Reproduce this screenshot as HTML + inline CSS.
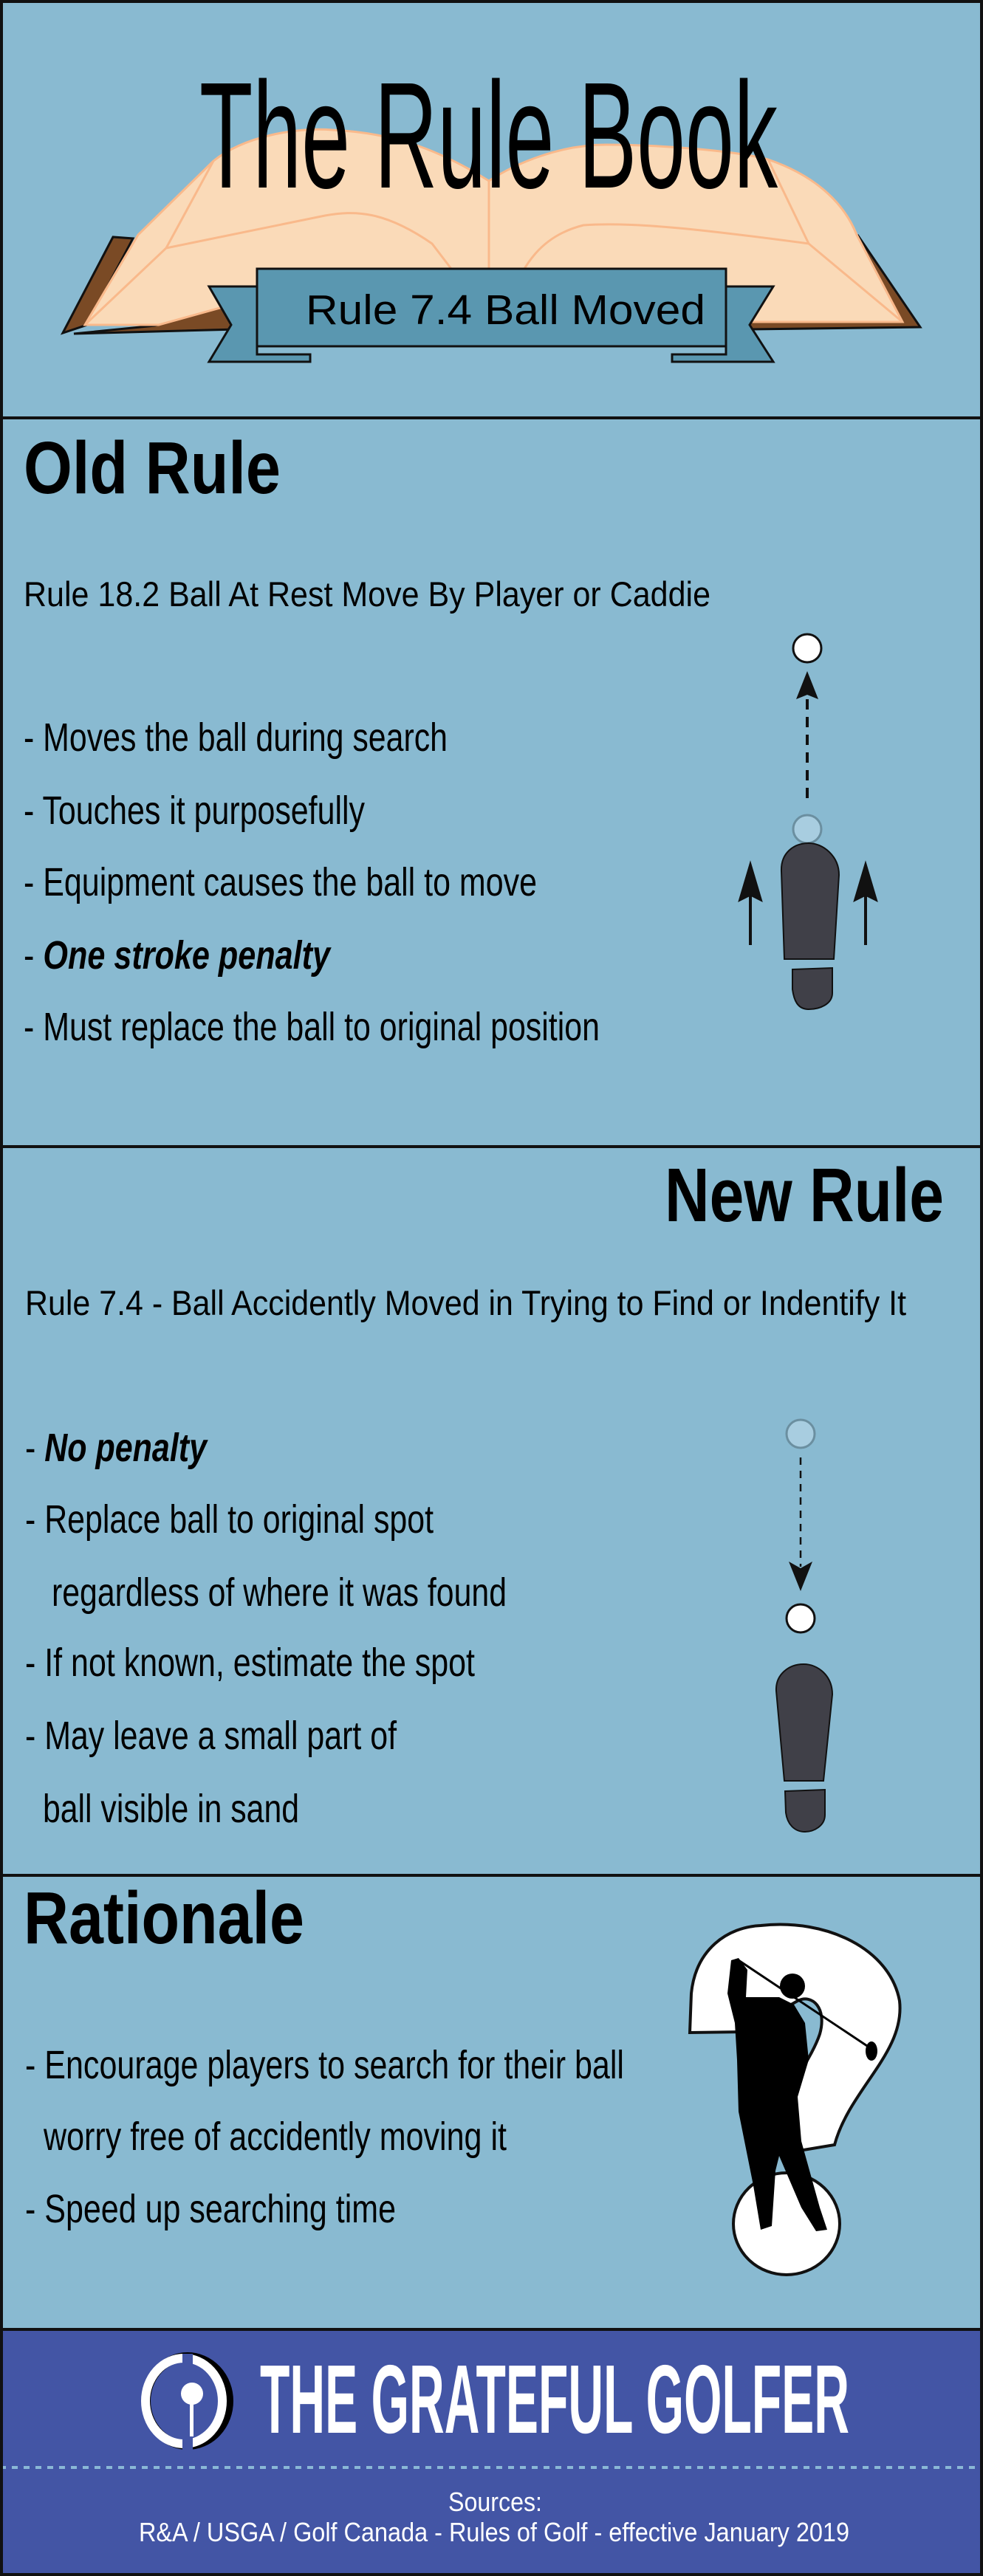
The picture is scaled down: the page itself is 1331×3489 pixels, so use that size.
<!DOCTYPE html>
<html><head><meta charset="utf-8"><style>html,body{margin:0;padding:0;background:#89bad1}svg{display:block}</style></head><body>
<svg width="1331" height="3489" viewBox="0 0 1331 3489" xmlns="http://www.w3.org/2000/svg" font-family="'Liberation Sans', sans-serif">
<rect x="0" y="0" width="1331" height="3489" fill="#89bad1"/>
<!-- footer -->
<rect x="0" y="3155" width="1331" height="334" fill="#4355a5"/>
<line x1="0" y1="3342" x2="1331" y2="3342" stroke="#8ab8d6" stroke-width="4" stroke-dasharray="8 8"/>
<!-- borders -->
<rect x="2" y="2" width="1327" height="3485" fill="none" stroke="#111" stroke-width="4"/>
<line x1="0" y1="566" x2="1331" y2="566" stroke="#111" stroke-width="4"/>
<line x1="0" y1="1553" x2="1331" y2="1553" stroke="#111" stroke-width="4"/>
<line x1="0" y1="2540" x2="1331" y2="2540" stroke="#111" stroke-width="4"/>
<line x1="0" y1="3155" x2="1331" y2="3155" stroke="#111" stroke-width="4"/>

<!-- BOOK -->
<polygon points="85,451 153,321 180,323 118,440" fill="#7a4a25" stroke="#111" stroke-width="3"/>
<polygon points="210,441 305,412 320,446 100,452" fill="#7a4a25" stroke="#111" stroke-width="3"/>
<polygon points="1161,318 1246,443 1015,446 1015,434 1220,434" fill="#7a4a25" stroke="#111" stroke-width="3"/>
<path d="M115,440 L187,318 L289,218 C330,185 400,172 450,176 C530,180 590,200 662,245 C700,220 760,196 820,196 C900,196 1000,205 1040,216 C1110,240 1145,280 1160,318 L1222,436 L1010,436 L700,440 L305,415 L215,440 Z" fill="#fadab8" stroke="#f9b98b" stroke-width="3"/>
<g fill="none" stroke="#f9b98b" stroke-width="3">
<path d="M289,218 L225,336 L115,440"/>
<path d="M225,336 L440,292 C480,285 520,285 585,330 L640,402"/>
<path d="M662,245 L662,402"/>
<path d="M690,402 C710,360 730,320 790,305 C860,300 960,312 1095,330 L1222,436"/>
<path d="M1095,330 L1040,216"/>
</g>
<!-- banner -->
<polygon points="283,388 348,388 348,480 420,480 420,490 283,490 313,440" fill="#5a97b0" stroke="#111" stroke-width="3"/>
<polygon points="1047,388 983,388 983,480 910,480 910,490 1047,490 1015,440" fill="#5a97b0" stroke="#111" stroke-width="3"/>
<rect x="348" y="364" width="635" height="105" fill="#5a97b0" stroke="#111" stroke-width="3"/>
<text x="414" y="439" font-size="57" textLength="541" lengthAdjust="spacingAndGlyphs" fill="#000">Rule 7.4 Ball Moved</text>
<text x="270" y="254" font-size="205" textLength="783" lengthAdjust="spacingAndGlyphs" fill="#000">The Rule Book</text>

<!-- OLD RULE -->
<text x="32" y="668" font-size="100" font-weight="bold" textLength="348" lengthAdjust="spacingAndGlyphs">Old Rule</text>
<text x="32" y="821" font-size="47" textLength="930" lengthAdjust="spacingAndGlyphs">Rule 18.2 Ball At Rest Move By Player or Caddie</text>
<text x="32" y="1017" font-size="54" textLength="574" lengthAdjust="spacingAndGlyphs">- Moves the ball during search</text>
<text x="32" y="1116" font-size="54" textLength="462" lengthAdjust="spacingAndGlyphs">- Touches it purposefully</text>
<text x="32" y="1213" font-size="54" textLength="695" lengthAdjust="spacingAndGlyphs">- Equipment causes the ball to move</text>
<text x="32" y="1312" font-size="54" textLength="415" lengthAdjust="spacingAndGlyphs">- <tspan font-weight="bold" font-style="italic">One stroke penalty</tspan></text>
<text x="32" y="1409" font-size="54" textLength="780" lengthAdjust="spacingAndGlyphs">- Must replace the ball to original position</text>

<circle cx="1093" cy="878" r="19" fill="#fff" stroke="#111" stroke-width="3"/>
<polygon points="1093,909 1078,947 1093,941 1108,947" fill="#111"/>
<line x1="1093" y1="947" x2="1093" y2="1091" stroke="#111" stroke-width="4" stroke-dasharray="14 10"/>
<circle cx="1093" cy="1123" r="19" fill="#a8cde0" stroke="#6b8fa0" stroke-width="3"/>
<path d="M1062,1299 L1058,1180 C1057,1155 1075,1142 1095,1142 C1115,1142 1136,1160 1136,1185 L1129,1299 Z" fill="#404048" stroke="#111" stroke-width="2"/>
<path d="M1073,1313 L1127,1311 L1127,1345 C1127,1360 1110,1367 1095,1367 C1080,1367 1075,1355 1073,1340 Z" fill="#404048" stroke="#111" stroke-width="2"/>
<g fill="#111" stroke="#111">
<line x1="1016" y1="1280" x2="1016" y2="1212" stroke-width="4"/>
<polygon points="1016,1167 1000,1221 1016,1213 1032,1221" stroke-width="1"/>
<line x1="1172" y1="1280" x2="1172" y2="1212" stroke-width="4"/>
<polygon points="1172,1167 1156,1221 1172,1213 1188,1221" stroke-width="1"/>
</g>

<!-- NEW RULE -->
<text x="900" y="1654" font-size="103" font-weight="bold" textLength="378" lengthAdjust="spacingAndGlyphs">New Rule</text>
<text x="34" y="1781" font-size="47" textLength="1193" lengthAdjust="spacingAndGlyphs">Rule 7.4 - Ball Accidently Moved in Trying to Find or Indentify It</text>
<text x="34" y="1979" font-size="54" textLength="246" lengthAdjust="spacingAndGlyphs">- <tspan font-weight="bold" font-style="italic">No penalty</tspan></text>
<text x="34" y="2076" font-size="54" textLength="553" lengthAdjust="spacingAndGlyphs">- Replace ball to original spot</text>
<text x="70" y="2175" font-size="54" textLength="616" lengthAdjust="spacingAndGlyphs">regardless of where it was found</text>
<text x="34" y="2270" font-size="54" textLength="609" lengthAdjust="spacingAndGlyphs">- If not known, estimate the spot</text>
<text x="34" y="2369" font-size="54" textLength="503" lengthAdjust="spacingAndGlyphs">- May leave a small part of</text>
<text x="58" y="2468" font-size="54" textLength="347" lengthAdjust="spacingAndGlyphs">ball visible in sand</text>

<circle cx="1084" cy="1942" r="19" fill="#a8cde0" stroke="#6b8fa0" stroke-width="3"/>
<line x1="1084" y1="1974" x2="1084" y2="2122" stroke="#111" stroke-width="2.5" stroke-dasharray="10 8"/>
<polygon points="1084,2155 1068,2115 1084,2124 1100,2115" fill="#111"/>
<circle cx="1084" cy="2192" r="19" fill="#fff" stroke="#111" stroke-width="3"/>
<path d="M1062,2412 L1051,2290 C1050,2268 1068,2254 1088,2254 C1108,2254 1127,2270 1127,2295 L1115,2412 Z" fill="#404048" stroke="#111" stroke-width="2"/>
<path d="M1063,2426 L1117,2424 L1117,2458 C1117,2473 1102,2481 1090,2481 C1075,2481 1066,2470 1064,2455 Z" fill="#404048" stroke="#111" stroke-width="2"/>

<!-- RATIONALE -->
<text x="32" y="2632" font-size="100" font-weight="bold" textLength="380" lengthAdjust="spacingAndGlyphs">Rationale</text>
<text x="34" y="2815" font-size="54" textLength="811" lengthAdjust="spacingAndGlyphs">- Encourage players to search for their ball</text>
<text x="59" y="2912" font-size="54" textLength="627" lengthAdjust="spacingAndGlyphs">worry free of accidently moving it</text>
<text x="34" y="3010" font-size="54" textLength="502" lengthAdjust="spacingAndGlyphs">- Speed up searching time</text>

<path d="M934,2753 L936,2700 C942,2640 985,2610 1030,2608 C1120,2598 1205,2640 1218,2710 C1226,2780 1150,2830 1130,2905 L1040,2920 C1045,2850 1095,2800 1110,2755 C1120,2720 1100,2700 1080,2710 L1006,2752 Z" fill="#fff" stroke="#111" stroke-width="4"/>
<ellipse cx="1065" cy="3012" rx="72" ry="69" fill="#fff" stroke="#111" stroke-width="4"/>
<!-- golfer -->
<g fill="#000">
<circle cx="1073" cy="2690" r="17"/>
<path d="M990,2655 L1000,2652 L1012,2668 L1010,2705 L1055,2705 L1075,2715 L1090,2740 L1095,2790 L1080,2840 L1085,2900 L1110,2990 L1120,3020 L1105,3022 L1085,2990 L1055,2920 L1050,2940 L1045,3015 L1030,3020 L1020,2960 L1000,2860 L998,2790 L995,2740 L985,2700 Z"/>
</g>
<line x1="1000" y1="2655" x2="1180" y2="2775" stroke="#000" stroke-width="3"/>
<ellipse cx="1180" cy="2778" rx="8" ry="13" fill="#000"/>

<!-- FOOTER -->
<ellipse cx="254" cy="3252" rx="56" ry="60" fill="none" stroke="#000" stroke-width="12"/>
<ellipse cx="249" cy="3252" rx="52" ry="58" fill="none" stroke="#fff" stroke-width="12"/>
<rect x="247" y="3188" width="14" height="20" fill="#4355a5"/>
<rect x="247" y="3298" width="14" height="20" fill="#4355a5"/>
<circle cx="260" cy="3242" r="15" fill="#fff"/>
<rect x="257" y="3255" width="5" height="45" fill="#fff"/>
<text x="352" y="3295" font-size="132" font-weight="bold" fill="#fff" textLength="798" lengthAdjust="spacingAndGlyphs">THE GRATEFUL GOLFER</text>
<text x="607" y="3401" font-size="36" fill="#fff" textLength="127" lengthAdjust="spacingAndGlyphs">Sources:</text>
<text x="188" y="3442" font-size="36" fill="#fff" textLength="962" lengthAdjust="spacingAndGlyphs">R&amp;A / USGA / Golf Canada - Rules of Golf - effective January 2019</text>
</svg>
</body></html>
